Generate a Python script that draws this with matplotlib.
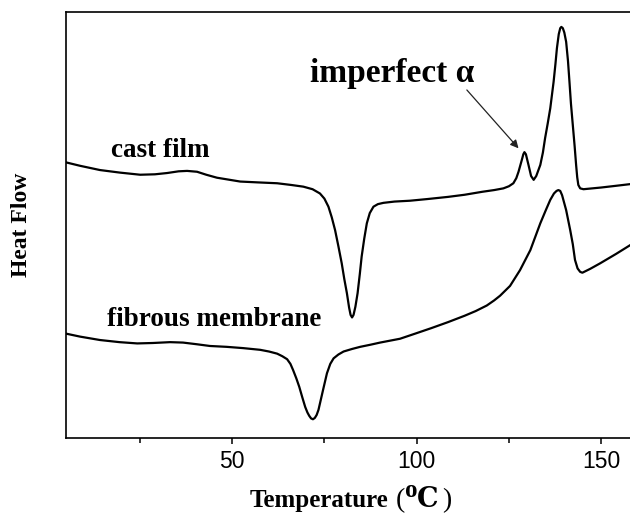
import matplotlib
matplotlib.use("Agg")
import matplotlib.pyplot as plt
from matplotlib.ticker import MultipleLocator

# ---- data (heat flow in arbitrary units) ----
cast_T = [5.0, 8.8, 14.2, 19.6, 25.1, 29.1, 32.4, 35.5, 37.8, 40.5, 43.0, 45.9,
          52.2, 57.0, 62.2, 66.0, 69.3, 71.8, 73.8, 75.0, 76.1, 77.0, 77.9, 78.8,
          79.7, 80.4, 81.1, 81.7, 82.1, 82.5, 82.9, 83.4, 84.0, 84.6, 85.1, 85.8,
          86.5, 87.3, 88.3, 89.5, 91.0, 94.0, 98.2, 103.0, 108.5, 113.0, 117.8,
          121.0, 123.5, 125.0, 126.2, 127.0, 127.6, 128.5, 128.9, 129.2, 129.6,
          130.3, 131.0, 131.7, 132.4, 133.5, 134.2, 134.8, 135.5, 136.2, 137.1,
          137.6, 138.0, 138.5, 138.9, 139.2, 139.6, 140.0, 140.5, 141.0, 141.4,
          141.8, 142.3, 142.8, 143.2, 143.5, 143.8, 144.3, 145.2, 150.0, 154.0,
          157.9]
cast_H = [64.7, 63.9, 62.9, 62.3, 61.8, 61.9, 62.2, 62.6, 62.7, 62.5, 61.8, 61.1,
          60.2, 60.0, 59.8, 59.4, 59.0, 58.4, 57.4, 56.2, 54.3, 51.8, 48.8, 45.0,
          41.0, 37.3, 34.0, 30.6, 28.9, 28.3, 28.9, 30.8, 34.0, 38.5, 42.6, 46.8,
          50.4, 52.8, 54.3, 54.9, 55.2, 55.5, 55.7, 56.1, 56.6, 57.1, 57.8,
          58.2, 58.6, 59.1, 59.8, 61.0, 62.5, 65.3, 66.6, 67.1, 66.6,
          64.1, 61.5, 60.6, 61.5, 64.1, 67.0, 70.4, 73.8, 77.4, 83.6,
          87.8, 91.5, 94.8, 96.2, 96.5, 96.2, 95.2, 93.0, 88.5, 83.6,
          78.5, 73.5, 68.5, 64.1, 61.2, 59.4, 58.6, 58.4, 58.8, 59.2,
          59.6]

fib_T = [5.0, 8.8, 14.2, 19.5, 24.3, 28.5, 33.2, 36.7, 40.5, 44.0, 48.5, 53.0,
         57.6, 60.0, 62.2, 63.6, 64.9, 65.8, 66.5, 67.4, 68.2, 69.0, 69.8, 70.4,
         70.9, 71.4, 71.9, 72.4, 72.9, 73.4, 73.8, 74.7, 75.7, 76.6, 77.5, 78.8,
         80.2, 82.5, 84.7, 87.5, 90.1, 95.5, 99.6, 104.0, 108.5, 113.0, 116.0,
         119.0, 121.0, 122.6, 125.3, 128.0, 130.8, 133.5, 135.0, 136.2, 137.2,
         137.9, 138.4, 138.9, 139.4, 140.5, 141.6, 142.3, 142.9, 143.6, 144.3,
         144.9, 147.0, 149.7, 154.0, 157.9]
fib_H = [24.5, 23.8, 23.0, 22.5, 22.2, 22.3, 22.5, 22.4, 22.0, 21.6, 21.4, 21.1,
         20.7, 20.3, 19.8, 19.2, 18.5, 17.4, 16.0, 14.0, 12.0, 9.6, 7.3, 6.0,
         5.2, 4.6, 4.4, 4.7, 5.4, 6.6, 8.1, 11.5, 15.2, 17.4, 18.7, 19.6,
         20.3, 20.9, 21.4, 21.9, 22.4, 23.3, 24.5, 25.8, 27.2, 28.7, 29.8,
         31.1, 32.3, 33.4, 35.7, 39.4, 44.1, 50.4, 53.5, 55.9, 57.4,
         58.0, 58.2, 58.0, 57.0, 53.5, 48.8, 45.5, 41.8, 39.8, 39.0,
         38.8, 39.7, 41.0, 43.2, 45.3]

major_ticks = [50, 100, 150]
tick_labels = ["50", "100", "150"]
series_labels = ["cast film", "fibrous membrane"]
annot_text = "imperfect \u03b1"

W, H = 630, 513
fig = plt.figure(figsize=(W / 100, H / 100), dpi=100)
ax = fig.add_axes([66 / W, 75 / H, 564 / W, 426 / H])

ax.plot(cast_T, cast_H, color="black", lw=1.6, solid_joinstyle="round")
ax.plot(fib_T, fib_H, color="black", lw=1.6, solid_joinstyle="round")

ax.set_xlim(5, 157.8)
ax.set_ylim(0, 100)
ax.set_yticks([])
ax.set_xticks(major_ticks)
ax.set_xticklabels(tick_labels, fontfamily="Liberation Sans", fontsize=16.5)
ax.xaxis.set_minor_locator(MultipleLocator(25))
ax.tick_params(axis="x", which="major", direction="out", length=4.5, width=1.1, pad=4)
ax.tick_params(axis="x", which="minor", direction="out", length=3.5, width=1.1)
ax.spines["right"].set_visible(False)
for s in ["left", "top", "bottom"]:
    ax.spines[s].set_linewidth(1.2)

serif_bold = dict(fontfamily="Liberation Serif", fontweight="bold")
ax.text(17.2, 66.0, series_labels[0], fontsize=19.5, ha="left", va="baseline", **serif_bold)
ax.text(16.1, 26.3, series_labels[1], fontsize=19.5, ha="left", va="baseline", **serif_bold)
ax.text(71.1, 83.6, annot_text, fontsize=24, ha="left", va="baseline", **serif_bold)
ax.annotate("", xy=(127.6, 68.0), xytext=(113.6, 81.7),
            arrowprops=dict(arrowstyle="-|>", lw=0.9, color="#222222",
                            mutation_scale=12, shrinkA=0, shrinkB=0))

# y label
fig.text(22 / W, 1 - 225 / H, "Heat Flow", rotation=90, ha="center", va="center",
         fontsize=17, **serif_bold)

# x label pieces
by = (H - 506.7) / H
fig.text(250 / W, by, "Temperature", fontsize=18, ha="left", va="baseline", **serif_bold)
fig.text(396 / W, by, "(", fontsize=20, ha="left", va="baseline", fontfamily="Liberation Serif")
fig.text(405 / W, (H - 496.7) / H, "o", fontsize=18, ha="left", va="baseline", **serif_bold)
fig.text(417 / W, by, "C", fontsize=19.5, ha="left", va="baseline",
         fontfamily="DejaVu Serif", fontweight="bold")
fig.text(442 / W, by, ")", fontsize=20, ha="left", va="baseline", fontfamily="Liberation Serif")

fig.savefig("out.png", dpi=100)
